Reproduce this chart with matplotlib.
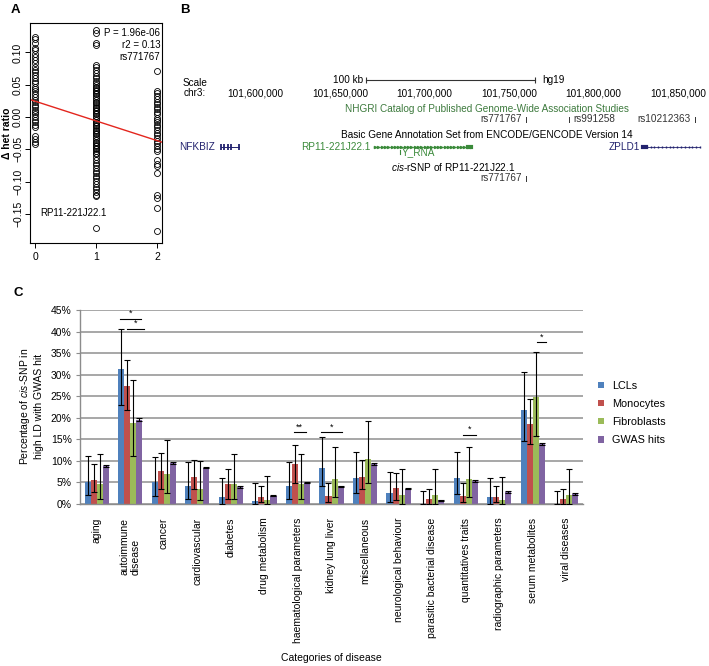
import matplotlib
matplotlib.use("Agg")
import matplotlib.pyplot as plt
import numpy as np

plt.rcParams['font.family'] = ['Liberation Sans', 'DejaVu Sans']
plt.rcParams['mathtext.fontset'] = 'custom'
plt.rcParams['mathtext.rm'] = 'Liberation Sans'
plt.rcParams['mathtext.it'] = 'Liberation Sans:italic'

W, H = 709, 666

# ---- panel A: delta het ratio by genotype of rs771767
geno0 = [0.124, 0.120, 0.115, 0.107, 0.103, 0.098, 0.093, 0.089, 0.083, 0.078,
         0.073, 0.070, 0.065, 0.060, 0.056, 0.052, 0.047, 0.044, 0.040, 0.036,
         0.031, 0.027, 0.023, 0.019, 0.015, 0.011, 0.007, 0.004, 0.000, -0.005,
         -0.008, -0.012, -0.015, -0.030, -0.034, -0.038, -0.042]
geno1 = [0.135, 0.130, 0.115, 0.112, 0.081, 0.077, 0.072, 0.068, 0.064, 0.060,
         0.056, 0.053, 0.050, 0.047, 0.045, 0.042, 0.040, 0.037, 0.035, 0.032,
         0.029, 0.027, 0.024, 0.021, 0.019, 0.016, 0.014, 0.011, 0.009, 0.006,
         0.004, 0.001, -0.002, -0.004, -0.007, -0.009, -0.012, -0.014, -0.017,
         -0.020, -0.022, -0.025, -0.027, -0.030, -0.032, -0.035, -0.038, -0.040,
         -0.043, -0.045, -0.048, -0.050, -0.053, -0.056, -0.058, -0.062, -0.066,
         -0.071, -0.075, -0.079, -0.083, -0.087, -0.091, -0.095, -0.099, -0.104,
         -0.108, -0.112, -0.116, -0.120, -0.123, -0.172]
geno2 = [0.071, 0.041, 0.037, 0.032, 0.028, 0.024, 0.020, 0.016, 0.012, 0.008,
         0.004, -0.001, -0.005, -0.008, -0.012, -0.016, -0.020, -0.024, -0.028,
         -0.032, -0.037, -0.041, -0.045, -0.049, -0.053, -0.067, -0.072, -0.076,
         -0.087, -0.120, -0.125, -0.141, -0.177]
fit_intercept = 0.0245
fit_slope = -0.0305

# ---- panel B: UCSC browser view
coord_ticks = [101600000, 101650000, 101700000, 101750000, 101800000, 101850000]
scale_start = 101665385
scale_len = 100000
gwas_snps = ["rs771767", "rs991258", "rs10212363"]
gwas_snp_pos = [101760060, 101785500, 101860060]
gwas_snp_side = ["left", "right", "left"]
nfkbiz_exons = [101579500, 101581500, 101583500, 101585500, 101590500]

# ---- panel C: enrichment of cis-SNPs in GWAS categories
categories = ["aging", "autoimmune\ndisease", "cancer", "cardiovascular", "diabetes",
              "drug metabolism", "haematological parameters", "kidney lung liver",
              "miscellaneous", "neurological behaviour", "parasitic bacterial disease",
              "quantitatives traits", "radiographic parameters", "serum metabolites",
              "viral diseases"]
lcl = [5.0, 31.4, 5.0, 4.1, 1.6, 0.7, 4.1, 8.4, 5.9, 2.5, 0.0, 5.9, 1.6, 21.7, 0.0]
lcl_lo = [2.0, 22.9, 1.9, 1.2, 0.0, 0.0, 1.2, 4.0, 2.4, 0.3, 0.0, 2.3, 0.0, 14.5, 0.0]
lcl_hi = [11.0, 40.7, 10.9, 9.7, 6.0, 4.7, 9.7, 15.4, 12.0, 7.4, 3.0, 12.0, 6.0, 30.5, 3.0]
mono = [5.4, 27.3, 7.5, 6.3, 4.5, 1.5, 9.2, 1.9, 6.2, 3.6, 1.0, 1.7, 1.5, 18.6, 1.0]
mono_lo = [2.8, 21.8, 3.5, 3.3, 1.1, 0.4, 4.7, 0.4, 3.3, 0.8, 0.0, 0.4, 0.5, 13.8, 0.0]
mono_hi = [9.2, 33.5, 11.8, 10.1, 8.1, 4.1, 13.7, 4.7, 10.2, 7.1, 3.5, 4.7, 4.1, 24.3, 3.5]
fibro = [4.6, 18.7, 6.9, 3.3, 4.5, 0.85, 4.5, 5.7, 10.5, 2.0, 2.1, 5.7, 0.85, 24.7, 2.1]
fibro_lo = [1.2, 11.0, 2.5, 0.9, 1.1, 0.0, 1.1, 1.6, 4.8, 0.0, 0.0, 1.6, 0.0, 15.8, 0.0]
fibro_hi = [11.5, 28.8, 14.7, 9.9, 11.5, 6.4, 11.5, 13.2, 19.1, 8.1, 8.1, 13.2, 6.3, 35.3, 8.1]
gwas = [8.7, 19.5, 9.5, 8.4, 3.8, 1.9, 4.9, 4.0, 9.2, 3.5, 0.8, 5.3, 2.7, 13.9, 2.2]
gwas_err = [0.25, 0.3, 0.25, 0.2, 0.2, 0.15, 0.2, 0.2, 0.25, 0.2, 0.15, 0.2, 0.2, 0.3, 0.2]
series_names = ["LCLs", "Monocytes", "Fibroblasts", "GWAS hits"]
colors = ["#4F81BD", "#C0504D", "#9BBB59", "#8064A2"]

# significance bars: category, start offset, end offset, height, label
sig_cat = [1, 1, 6, 7, 11, 13]
sig_x0 = [-0.30, -0.09, -0.12, -0.32, -0.07, 0.13]
sig_x1 = [0.33, 0.40, 0.23, 0.30, 0.31, 0.39]
sig_y = [42.9, 40.7, 16.6, 16.6, 16.0, 37.5]
sig_text = ["*", "*", "**", "*", "*", "*"]


def fx(x):
    return x / W


def fy(y):
    return 1 - y / H


def px_axes(left, top, right, bottom):
    return fig.add_axes([left / W, 1 - bottom / H, (right - left) / W, (bottom - top) / H])


fig = plt.figure(figsize=(W / 100, H / 100), dpi=100)

# ================= panel A
ax_a = px_axes(30, 22.7, 161.7, 242.7)
for gx, vals in zip([0, 1, 2], [geno0, geno1, geno2]):
    ax_a.plot(np.full(len(vals), gx), vals, 'o', mfc='none', mec='black',
              ms=4.3, mew=0.6)
xs = np.array([-0.2, 2.2])
ax_a.plot(xs, fit_intercept + fit_slope * xs, color='#E3261E', lw=1.0)
ax_a.set_xlim(-0.082, 2.077)
ax_a.set_ylim(-0.1946, 0.146)
ax_a.set_xticks([0, 1, 2])
ax_a.set_xticklabels(["0", "1", "2"], fontsize=7.5)
yt = [-0.15, -0.10, -0.05, 0.0, 0.05, 0.10]
ax_a.set_yticks(yt)
ax_a.set_yticklabels([f"{v:.2f}".replace("-", "\u2212") for v in yt],
                     rotation=90, va='center', fontsize=7.5)
ax_a.tick_params(direction='out', length=3.5, width=0.7, pad=1.5)
ax_a.tick_params(axis='x', pad=3)
for s in ax_a.spines.values():
    s.set_linewidth(0.8)
fig.text(fx(7.5), fy(133), "\u0394 het ratio", rotation=90, ha='center', va='center',
         fontsize=7.5, fontweight='bold')
ax_a.text(0.99, 0.953, "P = 1.96e-06", transform=ax_a.transAxes, ha='right',
          va='center', fontsize=7)
ax_a.text(0.99, 0.899, "r2 = 0.13", transform=ax_a.transAxes, ha='right',
          va='center', fontsize=7)
ax_a.text(0.99, 0.842, "rs771767", transform=ax_a.transAxes, ha='right',
          va='center', fontsize=7)
ax_a.text(0.08, 0.135, "RP11-221J22.1", transform=ax_a.transAxes, ha='left',
          va='center', fontsize=7)

# ================= panel B
ax_b = px_axes(175, 0, 709, 200)
ax_b.set_xlim(101552367, 101868343)
ax_b.set_ylim(200, 0)
ax_b.axis('off')
fs_b = 7.2
navy = "#22226E"
green = "#3A8A3A"

fig.text(fx(195), fy(83.5), "Scale", ha='center', va='center', fontsize=fs_b)
fig.text(fx(195), fy(93.5), "chr3:", ha='center', va='center', fontsize=fs_b)
for c in coord_ticks:
    ax_b.text(c, 93, f"{c:,}", ha='center', va='center', fontsize=fs_b)
ax_b.plot([scale_start, scale_start + scale_len], [80, 80], color='#333333',
          lw=0.8, marker='|', ms=5, mew=0.8)
ax_b.annotate("100 kb", (scale_start, 80), xytext=(-2, 0), textcoords='offset points',
              ha='right', va='center', fontsize=fs_b)
ax_b.annotate("hg19", (scale_start + scale_len, 80), xytext=(5, 0),
              textcoords='offset points', ha='left', va='center', fontsize=fs_b)

fig.text(fx(487), fy(109), "NHGRI Catalog of Published Genome-Wide Association Studies",
         ha='center', va='center', fontsize=fs_b, color='#3D7A3D')
for name, pos, side in zip(gwas_snps, gwas_snp_pos, gwas_snp_side):
    ax_b.plot([pos, pos], [116.5, 122], color='#333333', lw=0.7)
    off = -3 if side == "left" else 3
    ax_b.annotate(name, (pos, 119.3), xytext=(off, 0), textcoords='offset points',
                  ha='right' if side == "left" else 'left', va='center',
                  fontsize=fs_b, color='#333333')

fig.text(fx(487), fy(135), "Basic Gene Annotation Set from ENCODE/GENCODE Version 14",
         ha='center', va='center', fontsize=fs_b)

# NFKBIZ
ax_b.plot([nfkbiz_exons[0], nfkbiz_exons[-1]], [146.7, 146.7], color=navy, lw=0.7)
ax_b.plot(nfkbiz_exons, [146.7] * len(nfkbiz_exons), '|', color=navy, ms=5, mew=1.3)
ax_b.annotate("NFKBIZ", (nfkbiz_exons[0], 146.7), xytext=(-4, 0),
              textcoords='offset points', ha='right', va='center', fontsize=fs_b,
              color=navy)

# RP11-221J22.1
rp_start, rp_end = 101670710, 101727515
ax_b.plot([rp_start, rp_end], [146.7, 146.7], color=green, lw=0.6)
ax_b.plot(np.linspace(rp_start, rp_end, 30), [146.7] * 30, '>', color=green, ms=1.6)
ax_b.plot([rp_end - 2000, rp_end], [146.7, 146.7], color=green, lw=3)
ax_b.annotate("RP11-221J22.1", (rp_start, 146.7), xytext=(-3, 0),
              textcoords='offset points', ha='right', va='center', fontsize=fs_b,
              color=green)
yrna = 101685500
ax_b.plot([yrna, yrna], [149.5, 153.5], color=green, lw=0.8)
ax_b.annotate("Y_RNA", (yrna, 151.7), xytext=(1.5, 0), textcoords='offset points',
              ha='left', va='center', fontsize=fs_b, color=green)

# ZPLD1
z_start, z_end = 101829290, 101863020
ax_b.plot([z_start, z_end], [146.7, 146.7], color=navy, lw=0.6)
ax_b.plot(np.linspace(z_start, z_end, 16), [146.7] * 16, '|', color=navy, ms=2)
ax_b.plot([z_start, z_start + 1800], [146.7, 146.7], color=navy, lw=3)
ax_b.annotate("ZPLD1", (z_start, 146.7), xytext=(-2, 0), textcoords='offset points',
              ha='right', va='center', fontsize=fs_b, color=navy)

fig.text(fx(453), fy(166.7), r"$\it{cis}$-rSNP of RP11-221J22.1", ha='center',
         va='center', fontsize=fs_b)
ax_b.plot([gwas_snp_pos[0], gwas_snp_pos[0]], [175.5, 181], color='#333333', lw=0.7)
ax_b.annotate(gwas_snps[0], (gwas_snp_pos[0], 178.3), xytext=(-3, 0),
              textcoords='offset points', ha='right', va='center', fontsize=fs_b,
              color='#333333')

# ================= panel C
ax_c = px_axes(80, 310, 583, 503.7)
xpos = np.arange(len(categories))
bw = 0.18
offsets = [-1.5 * bw, -0.5 * bw, 0.5 * bw, 1.5 * bw]
data = [(lcl, lcl_lo, lcl_hi), (mono, mono_lo, mono_hi), (fibro, fibro_lo, fibro_hi),
        (gwas, [g - e for g, e in zip(gwas, gwas_err)], [g + e for g, e in zip(gwas, gwas_err)])]
for (vals, lo, hi), off, col, name in zip(data, offsets, colors, series_names):
    v = np.array(vals)
    ax_c.bar(xpos + off, v, width=bw, color=col, label=name, zorder=2)
    ax_c.errorbar(xpos + off, v, yerr=[v - np.array(lo), np.array(hi) - v], fmt='none',
                  ecolor='black', elinewidth=0.8, capsize=2, capthick=0.8, zorder=3)

for c, x0, x1, y, t in zip(sig_cat, sig_x0, sig_x1, sig_y, sig_text):
    ax_c.plot([c + x0, c + x1], [y, y], color='black', lw=0.8, zorder=3)
    ax_c.text(c + (x0 + x1) / 2, y + 0.2, t, ha='center', va='bottom', fontsize=6.5)

ax_c.set_xlim(-0.5, len(categories) - 0.5)
ax_c.set_ylim(0, 45)
ax_c.set_yticks(np.arange(0, 46, 5))
ax_c.set_yticklabels([f"{v}%" for v in range(0, 46, 5)], fontsize=7.5)
ax_c.yaxis.grid(True, color='#A0A0A0', lw=1.3)
ax_c.set_axisbelow(True)
for s in ['top', 'right']:
    ax_c.spines[s].set_visible(False)
for s in ['left', 'bottom']:
    ax_c.spines[s].set_color('#8C8C8C')
    ax_c.spines[s].set_linewidth(1.0)
ax_c.tick_params(axis='y', length=3, color='#8C8C8C', pad=3)
ax_c.set_xticks(xpos)
ax_c.set_xticklabels(categories, rotation=90, ha='center', va='top', fontsize=7.5,
                     multialignment='left')
ax_c.tick_params(axis='x', length=0, pad=10)
ax_c.set_ylabel("Percentage of $\\it{cis}$-SNP in\nhigh LD with GWAS hit", fontsize=7.5,
                labelpad=5)
fig.text(fx(331), fy(658), "Categories of disease", ha='center', va='center', fontsize=7.5)
ax_c.legend(loc='center left', bbox_to_anchor=(fx(594), fy(413)),
            bbox_transform=fig.transFigure, frameon=False, fontsize=7.8,
            handlelength=0.55, handleheight=0.55, handletextpad=0.7, labelspacing=0.75,
            borderaxespad=0)

# panel letters
fig.text(fx(11), fy(10), "A", fontsize=9.5, fontweight='bold', va='center')
fig.text(fx(180), fy(10), "B", fontsize=9.5, fontweight='bold', va='center')
fig.text(fx(13), fy(293), "C", fontsize=9.5, fontweight='bold', va='center')

fig.savefig("out.png", dpi=100)
